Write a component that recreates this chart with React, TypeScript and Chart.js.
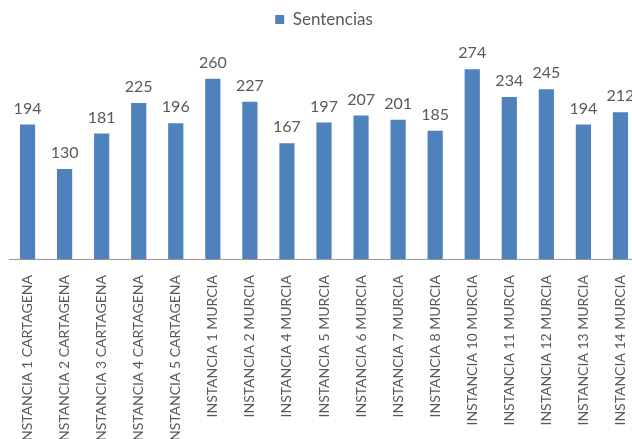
import React, { useEffect, useRef } from "react";
import { Chart, registerables } from "chart.js";

Chart.register(...registerables);

const categories: string[] = [
  "INSTANCIA 1 CARTAGENA",
  "INSTANCIA 2 CARTAGENA",
  "INSTANCIA 3 CARTAGENA",
  "INSTANCIA 4 CARTAGENA",
  "INSTANCIA 5 CARTAGENA",
  "INSTANCIA 1 MURCIA",
  "INSTANCIA 2 MURCIA",
  "INSTANCIA 4 MURCIA",
  "INSTANCIA 5 MURCIA",
  "INSTANCIA 6 MURCIA",
  "INSTANCIA 7 MURCIA",
  "INSTANCIA 8 MURCIA",
  "INSTANCIA 10 MURCIA",
  "INSTANCIA 11 MURCIA",
  "INSTANCIA 12 MURCIA",
  "INSTANCIA 13 MURCIA",
  "INSTANCIA 14 MURCIA",
];

const sentencias: number[] = [194, 130, 181, 225, 196, 260, 227, 167, 197, 207, 201, 185, 274, 234, 245, 194, 212];

const seriesName = "Sentencias";
const FONT = "Lato, 'Open Sans', sans-serif";
const TEXT = "#595959";
const BLUE = "#4f81bd";

const valueLabels = {
  id: "valueLabels",
  afterDatasetsDraw(chart: any) {
    const ctx = chart.ctx;
    const meta = chart.getDatasetMeta(0);
    ctx.save();
    ctx.font = `16px ${FONT}`;
    ctx.fillStyle = TEXT;
    ctx.textAlign = "center";
    ctx.textBaseline = "alphabetic";
    meta.data.forEach((el: any, i: number) => {
      ctx.fillText(String(sentencias[i]), el.x, el.y - 11);
    });
    ctx.restore();
  },
};

export default function App() {
  const ref = useRef<HTMLCanvasElement>(null);
  useEffect(() => {
    if (!ref.current) return;
    const chart = new Chart(ref.current, {
      type: "bar",
      data: {
        labels: categories,
        datasets: [
          {
            label: seriesName,
            data: sentencias,
            backgroundColor: BLUE,
            borderWidth: 0,
            categoryPercentage: 1,
            barPercentage: 0.41,
          },
        ],
      },
      options: {
        responsive: false,
        animation: false,
        layout: { padding: { left: 9, right: 21, top: 1, bottom: 0 } },
        plugins: {
          legend: {
            display: true,
            position: "top",
            labels: {
              boxWidth: 9,
              boxHeight: 9,
              color: TEXT,
              font: { family: FONT, size: 17 },
              padding: 10,
            },
          },
          tooltip: { enabled: false },
        },
        scales: {
          x: {
            grid: { display: false },
            border: { display: true, color: "#999999", width: 1 },
            ticks: {
              color: TEXT,
              font: { family: FONT, size: 14 },
              minRotation: 90,
              maxRotation: 90,
              autoSkip: false,
              padding: 8,
            },
            afterFit: (scale: any) => {
              scale.height = 180;
            },
          },
          y: {
            display: false,
            min: 0,
            max: 319,
          },
        },
      },
      plugins: [valueLabels],
    });
    return () => chart.destroy();
  }, []);
  return (
    <div style={{ position: "fixed", left: 0, top: 0, width: 632, height: 439, overflow: "hidden", background: "#fff" }}>
      <canvas ref={ref} width={660} height={439} style={{ position: "absolute", left: 0, top: 0, width: 660, height: 439 }} />
    </div>
  );
}
